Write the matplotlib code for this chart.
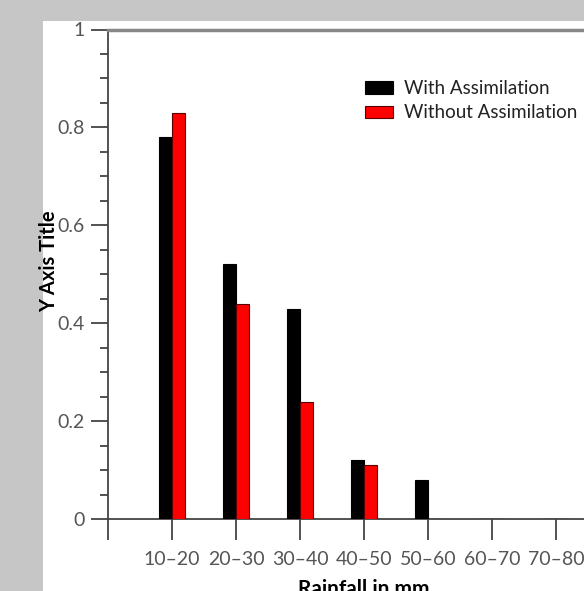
import matplotlib
matplotlib.use("Agg")
import matplotlib.pyplot as plt
from matplotlib.patches import Rectangle
from matplotlib.ticker import MultipleLocator
import numpy as np

categories = ["10–20", "20–30", "30–40", "40–50", "50–60", "60–70", "70–80"]
with_assim = [0.78, 0.52, 0.43, 0.12, 0.08, 0.0, 0.0]
without_assim = [0.83, 0.44, 0.24, 0.11, 0.0, 0.0, 0.0]

W, H = 584, 591
fig = plt.figure(figsize=(W / 100, H / 100), dpi=100)
fig.patch.set_facecolor("#c5c6c5")
fig.patches.append(Rectangle((43 / W, 0), 1, (H - 21) / H, transform=fig.transFigure,
                             facecolor="white", edgecolor="none", zorder=-5))

left, right = 108, 620
bottom, top = 519, 29.5
ax = fig.add_axes([left / W, (H - bottom) / H, (right - left) / W, (bottom - top) / H])
ax.set_facecolor("none")
ax.set_zorder(2)

tick_font = ["Lato", "DejaVu Sans"]
x = np.arange(1, len(categories) + 1)
bw = 0.2
ax.bar(x - bw / 2, with_assim, bw, color="black", edgecolor="black", linewidth=0.8,
       label="With Assimilation", zorder=3)
ax.bar(x + bw / 2, without_assim, bw, color="#ff0000", edgecolor="#5a0000", linewidth=0.8,
       label="Without Assimilation", zorder=3)

ax.set_xlim(0, 8)
ax.set_ylim(0, 1)
ax.set_xticks(np.arange(0, len(categories) + 1))
ax.set_xticklabels([""] + categories, fontfamily=tick_font, fontsize=14, color="#555555")
ax.set_yticks([0, 0.2, 0.4, 0.6, 0.8, 1.0])
ax.set_yticklabels(["0", "0.2", "0.4", "0.6", "0.8", "1"], fontfamily=tick_font,
                   fontsize=14, color="#555555")
ax.yaxis.set_minor_locator(MultipleLocator(0.05))
ax.tick_params(axis="x", which="major", direction="out", length=15, width=1.3,
               color="#444444", pad=8)
ax.tick_params(axis="y", which="major", direction="out", length=12, width=1.3,
               color="#444444", pad=5)
ax.tick_params(axis="y", which="minor", direction="out", length=6, width=1.3,
               color="#444444")
for s in ["left", "bottom"]:
    ax.spines[s].set_color("#444444")
    ax.spines[s].set_linewidth(1.3)
ax.spines["top"].set_color("#888888")
ax.spines["top"].set_linewidth(2.5)
ax.spines["right"].set_visible(False)

ax.set_ylabel("Y Axis Title", fontsize=14.5, fontweight="bold", fontfamily=tick_font)
ax.yaxis.set_label_coords(-(left - 59) / (right - left), (bottom - 261) / (bottom - top))
ax.set_xlabel("Rainfall in mm", fontsize=15, fontweight="bold", fontfamily=tick_font)
ax.xaxis.set_label_coords(0.5, -(579 - bottom) / (bottom - top))
ax.xaxis.label.set_va("top")

leg = ax.legend(loc="upper left", bbox_to_anchor=((365 - left) / (right - left),
                                                  (bottom - 80) / (bottom - top)),
                frameon=False, borderpad=0, borderaxespad=0,
                prop={"family": tick_font, "size": 13.5},
                handlelength=1.5, handleheight=0.66, handletextpad=0.6, labelspacing=0.4,
                labelcolor="#222222")

fig.savefig("out.png", dpi=100)
